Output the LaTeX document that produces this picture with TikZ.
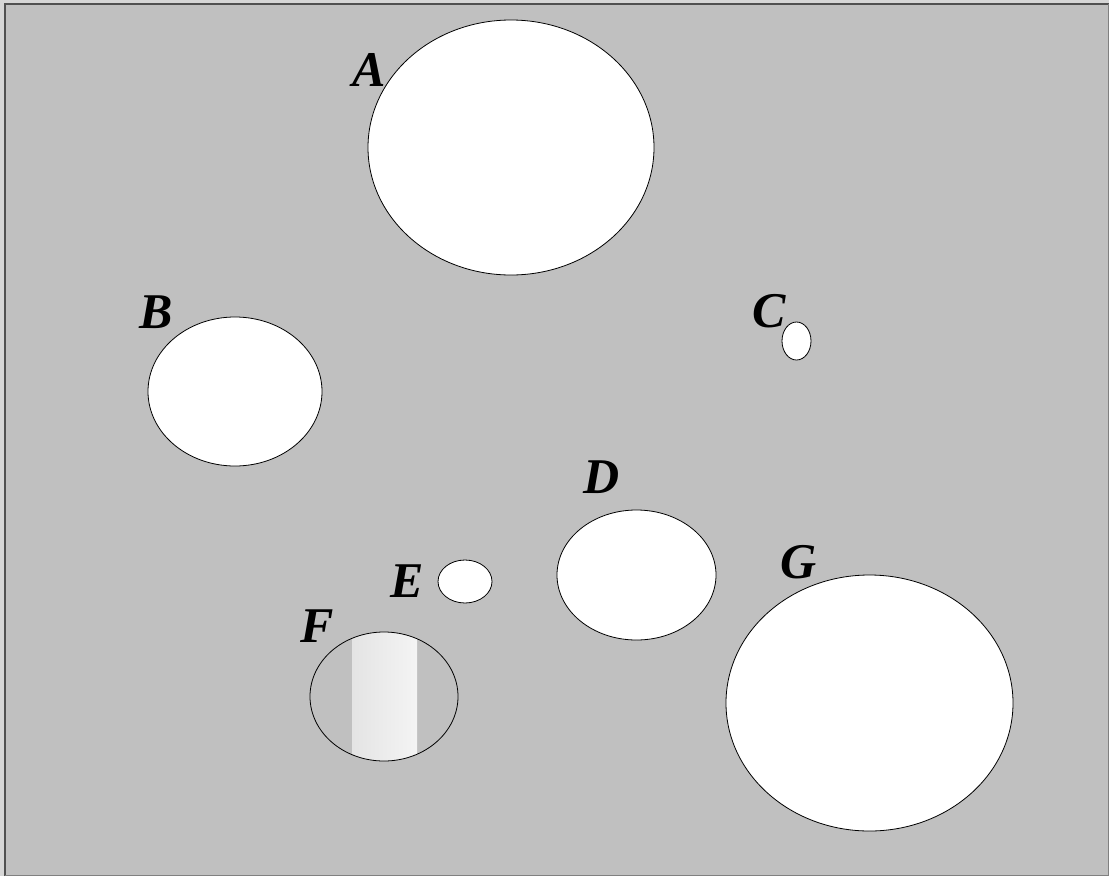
\documentclass[tikz,border=0pt]{standalone}
\usepackage{fontspec}
\setmainfont{Liberation Serif}
\usetikzlibrary{positioning}

\definecolor{panelgray}{HTML}{C0C0C0}
\definecolor{edgegray}{HTML}{D6D6D6}
\definecolor{framegray}{HTML}{505050}
\definecolor{bandleft}{HTML}{E4E4E4}
\definecolor{bandright}{HTML}{F4F4F4}

\begin{document}
\begin{tikzpicture}[x=1pt, y=-1pt,
    hole/.style={draw=black, fill=white, line width=0.8pt},
    tag/.style={inner sep=0pt, font=\fontsize{50}{50}\selectfont\bfseries\itshape}]

    % Panel
    \useasboundingbox (0,0) rectangle (1109,876);
    \fill[edgegray] (0,0) rectangle (1109,876);
    \fill[panelgray] (4,3) rectangle (1108,875);
    \draw[framegray, line width=1.8pt] (4.9,876) -- (4.9,3.9) -- (1109,3.9);
    \draw[gray, line width=1pt] (1108,3.5) -- (1108,875.5) -- (4.5,875.5);

    % Holes
    \draw[hole] (511,147.5) ellipse [x radius=143pt, y radius=127.5pt];
    \draw[hole] (235,391.5) ellipse [x radius=87pt, y radius=74.5pt];
    \draw[hole] (796.5,341) ellipse [x radius=14.5pt, y radius=19pt];
    \draw[hole] (636.5,575) ellipse [x radius=79.5pt, y radius=65pt];
    \draw[hole] (465,581.5) ellipse [x radius=27pt, y radius=21.5pt];
    \draw[hole] (869.5,703) ellipse [x radius=143.5pt, y radius=128pt];

    % Hole F with band
    \begin{scope}
        \clip (384,696.5) ellipse [x radius=74pt, y radius=64.5pt];
        \shade[left color=bandleft, right color=bandright] (352,620) rectangle (417,770);
    \end{scope}
    \draw[black, line width=0.8pt] (384,696.5) ellipse [x radius=74pt, y radius=64.5pt];

    % Labels
    \node (lab_a) [tag] at (369,70) {A};
    \node (lab_b) [tag] at (156,312) {B};
    \node (lab_c) [tag] at (769,311) {C};
    \node (lab_d) [tag] at (602,477) {D};
    \node (lab_e) [tag] at (407,581) {E};
    \node (lab_f) [tag] at (317,626) {F};
    \node (lab_g) [tag] at (799,562) {G};

\end{tikzpicture}
\end{document}
